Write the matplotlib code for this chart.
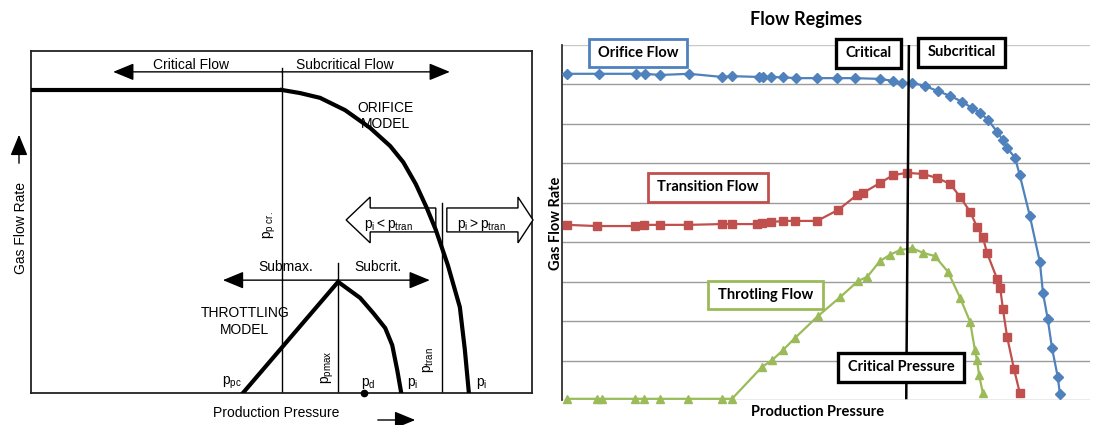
import matplotlib
matplotlib.use("Agg")
import matplotlib.pyplot as plt
from matplotlib.patches import Polygon, Rectangle, FancyArrowPatch

# ---------------- data: left schematic (arbitrary units 0..100) ----------------
orifice_flat_x = [0.0, 50.1]
orifice_flat_y = [88.6, 88.6]
orifice_curve_x = [50.1, 53.7, 57.7, 62.7, 67.7, 71.7, 74.3, 76.8, 79.0, 80.8, 83.2, 85.6, 86.6, 87.4]
orifice_curve_y = [88.6, 87.7, 86.3, 82.7, 77.5, 72.2, 67.5, 61.1, 54.1, 47.7, 37.4, 25.1, 12.6, 0.0]
throttle_x = [42.3, 61.3, 65.7, 68.3, 70.7, 72.1, 73.1, 73.9]
throttle_y = [0.0, 32.5, 27.8, 23.4, 19.0, 14.0, 6.7, 0.0]
p_pcr = 50.1
p_pmax = 61.3
p_tran = 82.0
p_d = 66.5

# ---------------- data: right chart ----------------
orifice_x = [0.95, 7.0, 14.0, 15.7, 18.6, 24.1, 30.3, 32.2, 37.3, 38.1, 39.6, 41.9, 44.3, 48.3, 52.1, 55.5,
             60.2, 62.7, 64.4, 66.3, 68.8, 71.2, 73.5, 75.8, 77.7, 79.2, 80.7, 82.4, 83.5, 84.3, 85.8,
             86.7, 88.6, 90.5, 91.1, 92.0, 92.8, 93.9, 94.3]
orifice_y = [8.27, 8.27, 8.27, 8.27, 8.24, 8.27, 8.19, 8.21, 8.19, 8.19, 8.19, 8.18, 8.16, 8.16, 8.16, 8.16,
             8.14, 8.09, 8.04, 8.04, 7.96, 7.83, 7.71, 7.56, 7.40, 7.28, 7.10, 6.80, 6.59, 6.39, 6.14,
             5.70, 4.67, 3.50, 2.71, 2.05, 1.32, 0.58, 0.15]
transition_x = [0.95, 6.6, 13.8, 15.5, 18.6, 23.9, 30.3, 32.2, 36.9, 37.9, 39.6, 41.9, 44.1, 48.3, 52.3,
                55.9, 57.0, 60.2, 62.7, 65.3, 68.4, 71.0, 73.5, 75.4, 77.3, 78.6, 79.7, 80.5, 82.4, 83.0,
                83.5, 84.3, 85.6, 86.7]
transition_y = [4.44, 4.41, 4.41, 4.44, 4.44, 4.44, 4.46, 4.46, 4.46, 4.49, 4.51, 4.54, 4.54, 4.54, 4.82,
                5.20, 5.25, 5.50, 5.70, 5.76, 5.73, 5.63, 5.48, 5.15, 4.77, 4.39, 4.13, 3.73, 3.07, 2.84,
                2.31, 1.60, 0.79, 0.18]
throtling_x = [0.95, 6.6, 7.6, 13.8, 15.5, 18.6, 23.9, 30.3, 32.2, 37.9, 39.8, 41.9, 44.1, 48.5, 52.7,
               56.1, 57.8, 60.2, 62.1, 64.0, 66.3, 68.4, 70.6, 73.1, 75.4, 77.3, 78.2, 78.6, 79.0, 79.7]
throtling_y = [0.03, 0.03, 0.03, 0.03, 0.03, 0.03, 0.03, 0.03, 0.03, 0.84, 1.01, 1.27, 1.57, 2.13, 2.61,
               3.02, 3.12, 3.52, 3.68, 3.80, 3.85, 3.73, 3.65, 3.25, 2.59, 1.98, 1.27, 1.01, 0.63, 0.18]
critical_line_x = [65.7, 65.2]
critical_line_y = [9.0, 0.05]
grid_levels = [0, 1, 2, 3, 4, 5, 6, 7, 8, 9]

BLUE = "#4F81BD"
RED = "#C0504D"
GREEN = "#9BBB59"

plt.rcParams['mathtext.fontset'] = 'custom'
plt.rcParams['mathtext.rm'] = 'Liberation Sans'
plt.rcParams['mathtext.it'] = 'Liberation Sans'
plt.rcParams['mathtext.bf'] = 'Liberation Sans:bold'

fig = plt.figure(figsize=(11.01, 4.25), dpi=100)

# ====================== LEFT PANEL ======================
axL = fig.add_axes([31 / 1101, 32 / 425, 501 / 1101, 342 / 425])
axL.set_xlim(0, 100)
axL.set_ylim(0, 100)
axL.set_xticks([])
axL.set_yticks([])
for s in axL.spines.values():
    s.set_linewidth(1.3)
    s.set_color('#222222')

LF = 'Liberation Sans'
thick = 3.0
thin = 1.0

axL.plot(orifice_flat_x, orifice_flat_y, color='k', lw=thick, solid_capstyle='butt', zorder=4)
axL.plot(orifice_curve_x, orifice_curve_y, color='k', lw=thick, solid_joinstyle='round', zorder=4)
axL.plot(throttle_x, throttle_y, color='k', lw=thick, solid_joinstyle='miter', zorder=4)

axL.plot([p_pcr, p_pcr], [0, 95.0], color='k', lw=thin)
axL.plot([p_pmax, p_pmax], [0, 38.0], color='k', lw=thin)
axL.plot([p_tran, p_tran], [0, 55.6], color='k', lw=thin)
axL.plot([p_d], [0], marker='o', ms=4.5, color='k', clip_on=False, zorder=5)

head = '-|>,head_length=0.8,head_width=0.33'
arrow_kw = dict(arrowstyle=head, mutation_scale=16, lw=1.0, color='k', shrinkA=0, shrinkB=0)
axL.annotate('', xy=(16.4, 93.9), xytext=(p_pcr, 93.9), arrowprops=arrow_kw)
axL.annotate('', xy=(83.6, 93.9), xytext=(p_pcr, 93.9), arrowprops=arrow_kw)
axL.annotate('', xy=(38.3, 33.0), xytext=(p_pmax, 33.0), arrowprops=arrow_kw)
axL.annotate('', xy=(79.6, 33.0), xytext=(p_pmax, 33.0), arrowprops=arrow_kw)

left_hollow = [(62.9, 50.6), (67.7, 57.3), (67.7, 54.1), (80.8, 54.1), (80.8, 47.1), (67.7, 47.1), (67.7, 43.9)]
right_hollow = [(83.0, 54.1), (97.2, 54.1), (97.2, 57.3), (100.2, 50.6), (97.2, 43.9), (97.2, 47.1), (83.0, 47.1)]
for pts in (left_hollow, right_hollow):
    axL.add_patch(Polygon(pts, closed=True, facecolor='white', edgecolor='k', lw=1.0, zorder=3, clip_on=False))

fs = 10
axL.text(31.9, 96.0, 'Critical Flow', family=LF, fontsize=fs, ha='center', va='center')
axL.text(62.7, 96.0, 'Subcritical Flow', family=LF, fontsize=fs, ha='center', va='center')
axL.text(70.7, 83.3, 'ORIFICE', family=LF, fontsize=fs, ha='center', va='center')
axL.text(70.7, 78.8, 'MODEL', family=LF, fontsize=fs, ha='center', va='center')
axL.text(42.7, 23.4, 'THROTTLING', family=LF, fontsize=fs, ha='center', va='center')
axL.text(42.7, 18.3, 'MODEL', family=LF, fontsize=fs, ha='center', va='center')
axL.text(50.9, 36.8, 'Submax.', family=LF, fontsize=fs, ha='center', va='center')
axL.text(69.3, 36.8, 'Subcrit.', family=LF, fontsize=fs, ha='center', va='center')
axL.text(71.3, 49.0, r'$\mathrm{p_i < p_{tran}}$', fontsize=fs, ha='center', va='center', zorder=6)
axL.text(90.0, 49.0, r'$\mathrm{p_i > p_{tran}}$', fontsize=fs, ha='center', va='center', zorder=6)
axL.text(47.7, 49.1, r'$\mathrm{p_{p\ cr.}}$', fontsize=fs, ha='center', va='center', rotation=90)
axL.text(59.3, 7.5, r'$\mathrm{p_{pmax}}$', fontsize=fs, ha='center', va='center', rotation=90)
axL.text(79.4, 9.5, r'$\mathrm{p_{tran}}$', fontsize=fs, ha='center', va='center', rotation=90)
axL.text(40.1, 2.9, r'$\mathrm{p_{pc}}$', fontsize=fs, ha='center', va='center')
axL.text(67.3, 2.9, r'$\mathrm{p_d}$', fontsize=fs, ha='center', va='center')
axL.text(76.2, 2.9, r'$\mathrm{p_i}$', fontsize=fs, ha='center', va='center')
axL.text(90.0, 2.9, r'$\mathrm{p_i}$', fontsize=fs, ha='center', va='center')

fig.text(21 / 1101, 1 - 228 / 425, 'Gas Flow Rate', family=LF, fontsize=fs, rotation=90,
         ha='center', va='center')
fig.text(276 / 1101, 1 - 413 / 425, 'Production Pressure', family=LF, fontsize=fs,
         ha='center', va='center')
fig.add_artist(FancyArrowPatch((19 / 1101, 1 - 166 / 425), (19 / 1101, 1 - 132 / 425),
               transform=fig.transFigure, arrowstyle=head, mutation_scale=16, lw=1.0, color='k'))
fig.add_artist(FancyArrowPatch((375 / 1101, 1 - 420 / 425), (418 / 1101, 1 - 420 / 425),
               transform=fig.transFigure, arrowstyle=head, mutation_scale=16, lw=1.0, color='k'))

# ====================== RIGHT PANEL ======================
axR = fig.add_axes([562 / 1101, 25 / 425, 528 / 1101, 355 / 425])
axR.set_xlim(0, 100)
axR.set_ylim(0, 9)
axR.set_xticks([])
axR.set_yticks([])
for k in ('top', 'right', 'bottom'):
    axR.spines[k].set_visible(False)
axR.spines['left'].set_color('#333333')
axR.spines['left'].set_linewidth(1.3)
for g in grid_levels:
    axR.axhline(g, color='#c8c8c8' if g == grid_levels[-1] else '#9c9c9c', lw=1.0, zorder=0)

axR.plot(orifice_x, orifice_y, color=BLUE, lw=1.6, marker='D', ms=4.6, mec=BLUE, mfc=BLUE, zorder=3,
         clip_on=False)
axR.plot(transition_x, transition_y, color=RED, lw=1.6, marker='s', ms=6.4, mec=RED, mfc=RED, zorder=3,
         clip_on=False)
axR.plot(throtling_x, throtling_y, color=GREEN, lw=1.6, marker='^', ms=6.2, mec=GREEN, mfc=GREEN, zorder=3,
         clip_on=False)
axR.plot(critical_line_x, critical_line_y, color='k', lw=1.8, zorder=4)

RF = 'Lato'
boxes = [
    ('Orifice Flow', 5.11, 23.67, 8.44, 9.15, BLUE, 2.0),
    ('Critical', 51.9, 64.2, 8.42, 9.15, 'k', 2.4),
    ('Subcritical', 67.4, 83.9, 8.44, 9.18, 'k', 2.4),
    ('Transition Flow', 16.3, 39.0, 5.02, 5.76, RED, 2.0),
    ('Throtling Flow', 27.65, 49.4, 2.31, 3.02, GREEN, 2.0),
    ('Critical Pressure', 52.3, 76.1, 0.46, 1.19, 'k', 2.4),
]
for label, x0, x1, y0, y1, col, lw in boxes:
    axR.add_patch(Rectangle((x0, y0), x1 - x0, y1 - y0, facecolor='white', edgecolor=col, lw=lw,
                            zorder=6, clip_on=False))
    axR.text((x0 + x1) / 2, (y0 + y1) / 2, label, family=RF, fontweight='bold', fontsize=10.5,
             ha='center', va='center', zorder=7)

fig.text(806 / 1101, 1 - 20 / 425, 'Flow Regimes', family=RF, fontweight='bold', fontsize=13,
         ha='center', va='center')
fig.text(818 / 1101, 1 - 412 / 425, 'Production Pressure', family=RF, fontweight='bold', fontsize=10.5,
         ha='center', va='center')
fig.text(556 / 1101, 1 - 223 / 425, 'Gas Flow Rate', family=RF, fontweight='bold', fontsize=10.5,
         rotation=90, ha='center', va='center')

fig.savefig('out.png', dpi=100)
